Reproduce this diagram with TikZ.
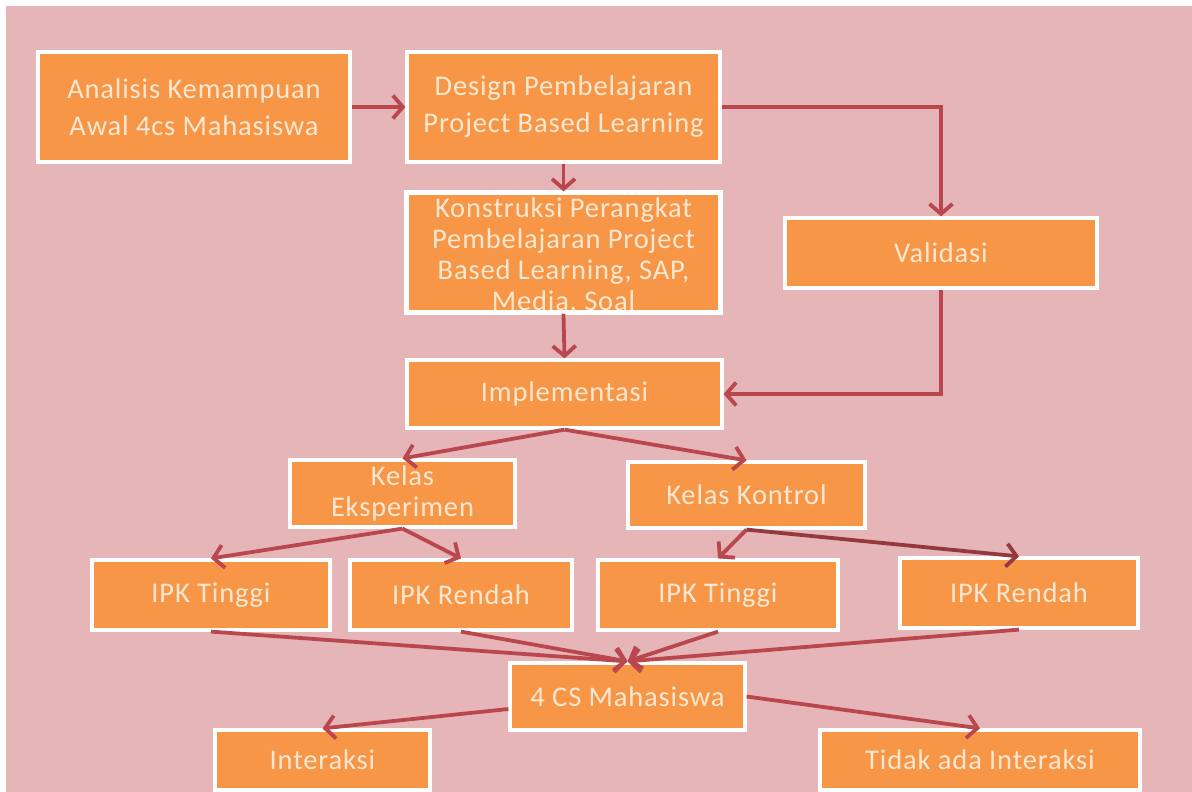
\documentclass[tikz,border=0pt]{standalone}
\usepackage{fontspec}
\setmainfont{Carlito}[LetterSpace=3]
\usetikzlibrary{arrows.meta,shadows}
\definecolor{bgpink}{HTML}{E5B5B8}
\definecolor{boxorange}{HTML}{F79646}
\definecolor{txtcream}{HTML}{FCE8D2}
\definecolor{arrowred}{HTML}{B9474D}
\tikzset{
  box/.style={draw=white, line width=3.2pt, fill=boxorange, text=txtcream,
    font=\fontsize{28.5}{37}\selectfont, align=center, inner sep=0pt,
    drop shadow={shadow xshift=1.5pt, shadow yshift=-2pt, opacity=0.3, fill=black}},
  boxtext/.style={text=txtcream, font=\fontsize{28.5}{31}\selectfont, align=center, inner sep=0pt},
  arr/.style={draw=arrowred, line width=3.8pt,
    -{Straight Barb[length=10pt,width=23pt]}},
}
\begin{document}
\begin{tikzpicture}[x=1pt,y=-1pt]
\useasboundingbox (0,0) rectangle (1192,792);
\fill[white] (0,0) rectangle (1192,792);
\fill[bgpink] (6,6) rectangle (1192,792);

% boxes
\node[box, minimum width=312pt, minimum height=110pt] (an) at (194,107) {Analisis Kemampuan\\Awal 4cs Mahasiswa};
\node[box, minimum width=313pt, minimum height=110pt] (de) at (563.5,107) {Design Pembelajaran\\Project Based Learning};
\node[box, minimum width=313pt, minimum height=119pt] (ko) at (563.5,252.5) {};
\begin{scope}
  \clip (ko.south west) rectangle (ko.north east);
  \node[boxtext] (kotext) at (563.5,256) {Konstruksi Perangkat\\Pembelajaran Project\\Based Learning, SAP,\\Media, Soal};
\end{scope}
\draw[white, line width=3.2pt] (ko.south west) rectangle (ko.north east);
\node[box, minimum width=312pt, minimum height=70pt] (va) at (941,253) {Validasi};
\node[box, minimum width=315pt, minimum height=68pt] (im) at (564.5,394) {Implementasi};
\node[box, minimum width=225pt, minimum height=67pt] (ke) at (402.5,493.5) {Kelas\\[-6pt]Eksperimen};
\node[box, minimum width=237pt, minimum height=66pt] (kk) at (746.5,495) {Kelas Kontrol};
\node[box, minimum width=238pt, minimum height=70pt] (it1) at (211,595) {IPK Tinggi};
\node[box, minimum width=222pt, minimum height=70pt] (ir1) at (461,595) {IPK Rendah};
\node[box, minimum width=240pt, minimum height=70pt] (it2) at (718,595) {IPK Tinggi};
\node[box, minimum width=238pt, minimum height=70pt] (ir2) at (1019,593) {IPK Rendah};
\node[box, minimum width=235pt, minimum height=67pt] (cs) at (627.5,696.5) {4 CS Mahasiswa};
\node[box, minimum width=215pt, minimum height=60pt] (in) at (322.5,760) {Interaksi};
\node[box, minimum width=320pt, minimum height=60pt] (ti) at (980,760) {Tidak ada Interaksi};

% connectors
\draw[arr] (an.east) -- (de.west);
\draw[arr] (de.east) -| (va.north);
\draw[arr] (de.south) -- (ko.north);
\draw[arr] (ko.south) -- (im.north);
\draw[arr] (va.south) |- (im.east);
\draw[arr] (im.south) -- (ke.north);
\draw[arr] (im.south) -- (kk.north);
\draw[arr] (ke.south) -- (it1.north);
\draw[arr] (ke.south) -- (ir1.north);
\draw[arr] (kk.south) -- (it2.north);
\draw[arr, draw=arrowred!80!black] (kk.south) -- (ir2.north);
\draw[arr] (it1.south) -- (cs.north);
\draw[arr] (ir1.south) -- (cs.north);
\draw[arr] (it2.south) -- (cs.north);
\draw[arr] (ir2.south) -- (cs.north);
\draw[arr] (cs.186) -- (in.north);
\draw[arr] (cs.east) -- (ti.north);
\end{tikzpicture}
\end{document}
